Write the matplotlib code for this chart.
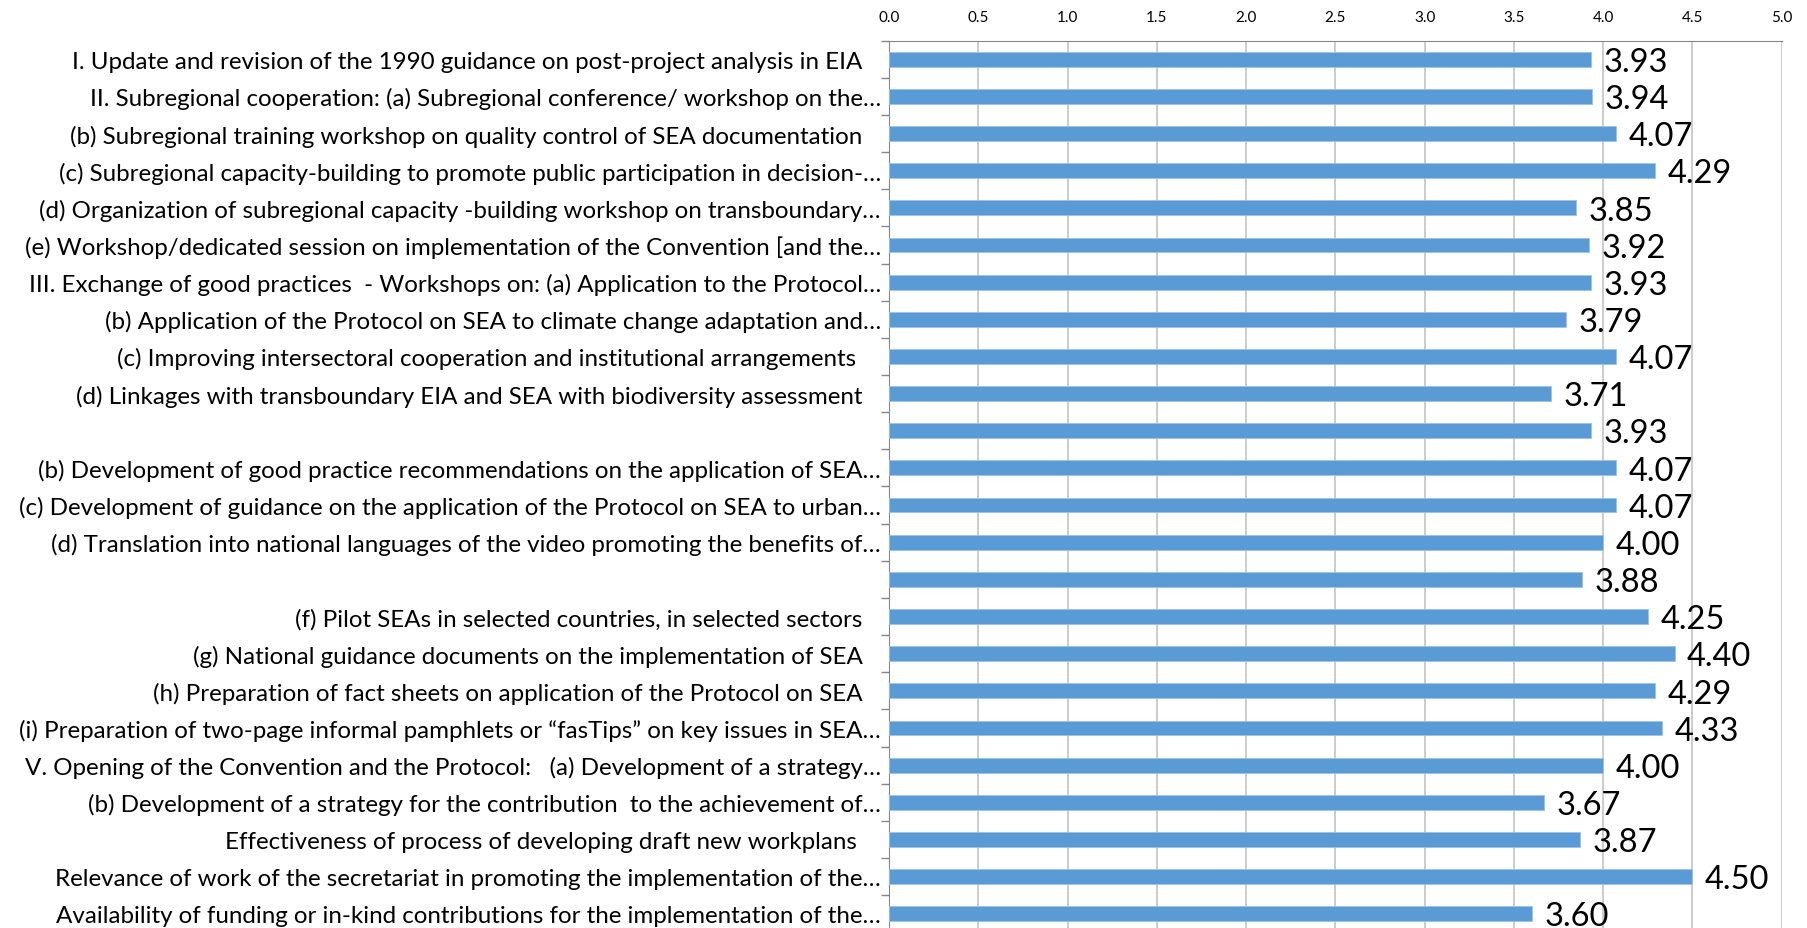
import matplotlib
matplotlib.use("Agg")
import matplotlib.pyplot as plt
from matplotlib.ticker import MultipleLocator, FixedLocator
import numpy as np

plt.rcParams['font.family'] = ['Lato', 'DejaVu Sans']

# categories, top to bottom
categories = [
    "I. Update and revision of the 1990 guidance on post-project analysis in EIA   ",
    "II. Subregional cooperation: (a) Subregional conference/ workshop on the\u2026",
    "(b) Subregional training workshop on quality control of SEA documentation   ",
    "(c) Subregional capacity-building to promote public participation in decision-\u2026",
    "(d) Organization of subregional capacity -building workshop on transboundary\u2026",
    "(e) Workshop/dedicated session on implementation of the Convention [and the\u2026",
    "III. Exchange of good practices  - Workshops on: (a) Application to the Protocol\u2026",
    "(b) Application of the Protocol on SEA to climate change adaptation and\u2026",
    "(c) Improving intersectoral cooperation and institutional arrangements    ",
    "(d) Linkages with transboundary EIA and SEA with biodiversity assessment   ",
    "",
    "(b) Development of good practice recommendations on the application of SEA\u2026",
    "(c) Development of guidance on the application of the Protocol on SEA to urban\u2026",
    "(d) Translation into national languages of the video promoting the benefits of\u2026",
    "",
    "(f) Pilot SEAs in selected countries, in selected sectors   ",
    "(g) National guidance documents on the implementation of SEA   ",
    "(h) Preparation of fact sheets on application of the Protocol on SEA   ",
    "(i) Preparation of two-page informal pamphlets or \u201cfasTips\u201d on key issues in SEA\u2026",
    "V. Opening of the Convention and the Protocol:   (a) Development of a strategy\u2026",
    "(b) Development of a strategy for the contribution  to the achievement of\u2026",
    "Effectiveness of process of developing draft new workplans    ",
    "Relevance of work of the secretariat in promoting the implementation of the\u2026",
    "Availability of funding or in-kind contributions for the implementation of the\u2026",
]
scores = [3.93, 3.94, 4.07, 4.29, 3.85, 3.92, 3.93, 3.79, 4.07, 3.71, 3.93, 4.07,
          4.07, 4.00, 3.88, 4.25, 4.40, 4.29, 4.33, 4.00, 3.67, 3.87, 4.50, 3.60]

blue = '#5B9BD5'
grid_gray = '#BFBFBF'

fig = plt.figure(figsize=(18.07, 9.29), dpi=100)
ax = fig.add_axes([0.4921, -0.0046, 0.4939, 0.9598])

y = np.arange(len(categories))
ax.barh(y, scores, height=0.4, color=blue, edgecolor='#9DC3E6', linewidth=0.6, zorder=3)

for yi, v in zip(y, scores):
    ax.annotate('%.2f' % v, (v, yi), xytext=(9, -2), textcoords='offset points',
                ha='left', va='center', fontsize=23.5, color='black', zorder=4)

ax.set_ylim(len(categories) - 0.5, -0.5)
ax.set_xlim(0, 5)
ax.xaxis.set_major_locator(MultipleLocator(0.5))
ax.xaxis.set_major_formatter(matplotlib.ticker.FormatStrFormatter('%.1f'))
ax.xaxis.tick_top()
ax.tick_params(axis='x', which='both', length=0, pad=12, labelsize=11, colors='black')
ax.grid(axis='x', color=grid_gray, linewidth=1.1, zorder=0)

ax.set_yticks(y)
ax.set_yticklabels(categories, fontsize=17.4)
ax.yaxis.set_minor_locator(FixedLocator(np.arange(-0.5, len(categories), 1)))
ax.tick_params(axis='y', which='major', length=0, pad=6)
ax.tick_params(axis='y', which='minor', length=6, width=1, color='#868686')

for side in ['bottom', 'right']:
    ax.spines[side].set_visible(False)
ax.spines['top'].set_color('#868686')
ax.spines['left'].set_color('#868686')

fig.savefig('out.png', dpi=100)
